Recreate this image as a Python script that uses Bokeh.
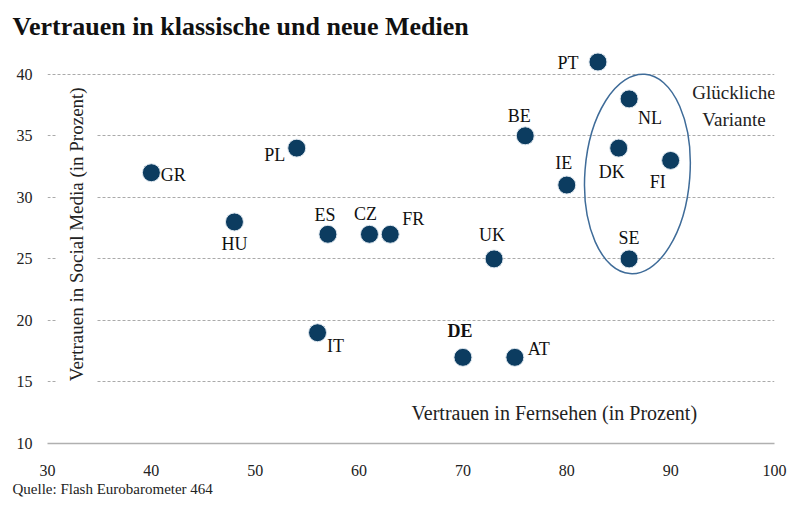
from bokeh.plotting import figure
from bokeh.models import Range1d, Label, Title, FixedTicker, ColumnDataSource
from bokeh.embed import file_html
from bokeh.resources import INLINE
import math

# ---- data ----
countries = ["GR", "HU", "PL", "ES", "CZ", "FR", "IT", "DE", "AT", "UK",
             "BE", "IE", "PT", "NL", "DK", "FI", "SE"]
trust_tv = [40, 48, 54, 57, 61, 63, 56, 70, 75, 73, 76, 80, 83, 86, 85, 90, 86]
trust_social = [32, 28, 34, 27, 27, 27, 19, 17, 17, 25, 35, 31, 41, 38, 34, 33, 25]
x_ticks = [30, 40, 50, 60, 70, 80, 90, 100]
y_ticks = [10, 15, 20, 25, 30, 35, 40]
highlight_center_x = [86.8]
highlight_center_y = [31.9]

# label placement (pixel offsets, style only)
label_dx = [22, 0, -22, -3, -4, 23, 18, -3, 24, -2, -6, -3, -30, 21, -7, -13, 0]
label_dy = [2, 22, 7, -19, -20, -15, 13, -26, -8, -24, -20, -22, 1, 19, 24, 22, -21]
label_style = ["bold" if c == "DE" else "normal" for c in countries]

FONT = "Liberation Serif"
DOT = "#0c3c60"

src = ColumnDataSource(dict(x=trust_tv, y=trust_social, name=countries,
                            dx=label_dx, dy=label_dy, style=label_style))

p = figure(width=792, height=499, x_range=Range1d(30, 100), y_range=Range1d(10, 42.5),
           output_backend="svg", toolbar_location=None,
           min_border_left=47, min_border_right=18, min_border_top=43, min_border_bottom=56)
p.outline_line_color = None
p.background_fill_color = "white"

p.title = Title(text="Vertrauen in klassische und neue Medien", text_font=FONT,
                text_font_size="26px", text_font_style="bold", align="left",
                offset=-35, text_color="#111111", standoff=6)
p.add_layout(Title(text="Quelle: Flash Eurobarometer 464", text_font=FONT,
                   text_font_size="15px", text_font_style="normal", align="left",
                   offset=-35, text_color="#222222", standoff=0), "below")

# axes
p.xaxis.ticker = FixedTicker(ticks=x_ticks)
p.yaxis.ticker = FixedTicker(ticks=y_ticks)
for ax in (p.xaxis[0], p.yaxis[0]):
    ax.major_tick_line_color = None
    ax.minor_tick_line_color = None
    ax.major_label_text_font = FONT
    ax.major_label_text_font_size = "16px"
    ax.major_label_text_color = "#222222"
p.xaxis.axis_line_color = "#b0b0b0"
p.xaxis.axis_line_width = 1.5
p.xaxis.major_label_standoff = 15
p.yaxis.axis_line_color = None
p.yaxis.major_label_standoff = 9

p.xgrid.grid_line_color = None
p.ygrid.grid_line_color = "#aaaaaa"
p.ygrid.grid_line_dash = "3 2"
p.ygrid.grid_line_width = 1

# y axis title inside plot with white box
p.add_layout(Label(x=32.8, y=27.0, text="Vertrauen in Social Media (in Prozent)",
                   angle=math.pi / 2, text_align="center", text_baseline="middle",
                   text_font=FONT, text_font_size="19px", text_color="#222222",
                   background_fill_color="white", padding=9))

# x axis title
p.add_layout(Label(x=78.8, y=12.5, text="Vertrauen in Fernsehen (in Prozent)",
                   text_align="center", text_baseline="middle",
                   text_font=FONT, text_font_size="20px", text_color="#222222"))

# ellipse highlight
p.ellipse(x=highlight_center_x, y=highlight_center_y, width=105, height=200,
          width_units="screen", height_units="screen", angle=-0.075,
          fill_color=None, line_color="#3f6c99", line_width=1.5)

p.add_layout(Label(x=96.1, y=38.5, text="Glückliche", text_align="center",
                   text_baseline="middle", text_font=FONT, text_font_size="19px",
                   text_color="#222222"))
p.add_layout(Label(x=96.1, y=36.3, text="Variante", text_align="center",
                   text_baseline="middle", text_font=FONT, text_font_size="19px",
                   text_color="#222222"))

# points
p.scatter("x", "y", source=src, size=18, fill_color=DOT, line_color="#dde6ee",
          line_width=1)

p.text("x", "y", text="name", source=src, x_offset="dx", y_offset="dy",
       text_align="center", text_baseline="middle", text_font_style="style",
       text_font={"value": FONT}, text_font_size={"value": "18px"}, text_color="#111111")

open("out.html", "w").write(file_html(p, INLINE))
